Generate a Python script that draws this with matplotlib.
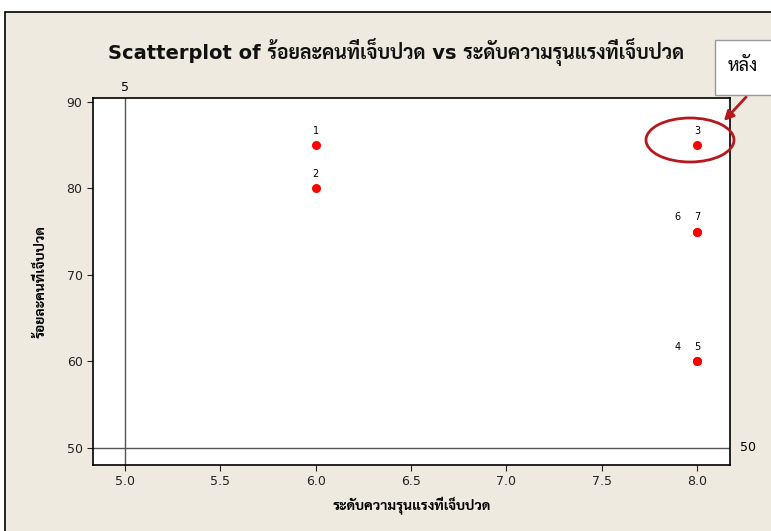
import matplotlib.pyplot as plt
from matplotlib import font_manager
from matplotlib.patches import Rectangle, Ellipse

# pick an installed font with Thai glyphs that also has a bold face
bold_fams = {f.name for f in font_manager.fontManager.ttflist
             if f.weight in ('bold', 700, 'semibold', 600) or str(f.weight).isdigit() and int(f.weight) >= 600}
thai_font = 'Noto Sans'
for cand in ['Noto Sans Thai Looped', 'Noto Sans Thai', 'Sarabun', 'Bai Jamjuree', 'Athiti']:
    if cand in bold_fams:
        thai_font = cand
        break
plt.rcParams['font.family'] = ['DejaVu Sans', thai_font]

# data
severity = [6, 6, 8, 8, 8, 8, 8]
percent = [85, 80, 85, 60, 60, 75, 75]
point_ids = ['1', '2', '3', '4', '5', '6', '7']
ref_x = 5
ref_y = 50

fig = plt.figure(figsize=(7.71, 5.31), dpi=100)
fig.patch.set_facecolor('white')
# beige panel with black border
fig.patches.append(Rectangle((5 / 771, -0.01), 1.0, 1 - 12 / 531 + 0.01,
                             transform=fig.transFigure, facecolor='#eeeae0',
                             edgecolor='black', linewidth=1.2, zorder=-10))

ax = fig.add_axes([93 / 771, 1 - 465 / 531, 637 / 771, 367 / 531])
ax.set_facecolor('white')
ax.scatter(severity, percent, color='red', s=30, zorder=3)

# labels for overlapping points: first id sits left, second over the dot
seen = {}
for x, y, lab in zip(severity, percent, point_ids):
    n = sum(1 for a, b in zip(severity, percent) if (a, b) == (x, y))
    k = seen.get((x, y), 0)
    seen[(x, y)] = k + 1
    offset = 0 if n == 1 else (-14 if k == 0 else 0)
    ax.annotate(lab, (x, y), xytext=(offset, 7), textcoords='offset points',
                ha='center', va='bottom', fontsize=7)

ax.axvline(ref_x, color='#555555', linewidth=1)
ax.axhline(ref_y, color='#555555', linewidth=1)
ax.text(ref_x, 1.01, '5', transform=ax.get_xaxis_transform(), ha='center', va='bottom', fontsize=9)
ax.text(1.015, ref_y, '50', transform=ax.get_yaxis_transform(), ha='left', va='center', fontsize=9)

ax.set_xlim(4.832, 8.173)
ax.set_ylim(48.03, 90.46)
ax.set_xticks([5.0, 5.5, 6.0, 6.5, 7.0, 7.5, 8.0])
ax.set_xticklabels(['5.0', '5.5', '6.0', '6.5', '7.0', '7.5', '8.0'])
ax.set_yticks([50, 60, 70, 80, 90])
ax.tick_params(direction='out', length=4, labelsize=9, colors='#222222')
for s in ax.spines.values():
    s.set_linewidth(1.2)

fig.text(396 / 771, 1 - 52 / 531,
         'Scatterplot of ร้อยละคนที่เจ็บปวด vs ระดับความรุนแรงที่เจ็บปวด',
         fontsize=14, fontweight='bold', ha='center', va='center', color='#111111')
ax.set_xlabel('ระดับความรุนแรงที่เจ็บปวด', fontsize=10, fontweight='bold', labelpad=6)
ax.set_ylabel('ร้อยละคนที่เจ็บปวด', fontsize=10, fontweight='bold', labelpad=14)

# callout
ell = Ellipse((690 / 771, 1 - 140 / 531), 88 / 771, 44 / 531, transform=fig.transFigure,
              fill=False, edgecolor='#b5191e', linewidth=2, zorder=5)
fig.patches.append(ell)
fig.patches.append(Rectangle((715 / 771, 1 - 95 / 531), 60 / 771, 55 / 531,
                             transform=fig.transFigure, facecolor='white',
                             edgecolor='#999999', linewidth=1, zorder=4))
fig.text(743 / 771, 1 - 66 / 531, 'หลัง', ha='center', va='center', fontsize=13, zorder=6)
ax.annotate('', xy=(722 / 771, 1 - 123 / 531), xytext=(748 / 771, 1 - 95 / 531),
            xycoords='figure fraction', textcoords='figure fraction',
            arrowprops=dict(arrowstyle='-|>', color='#b5191e', lw=2, mutation_scale=14),
            annotation_clip=False)

fig.savefig('out.png', dpi=100)
